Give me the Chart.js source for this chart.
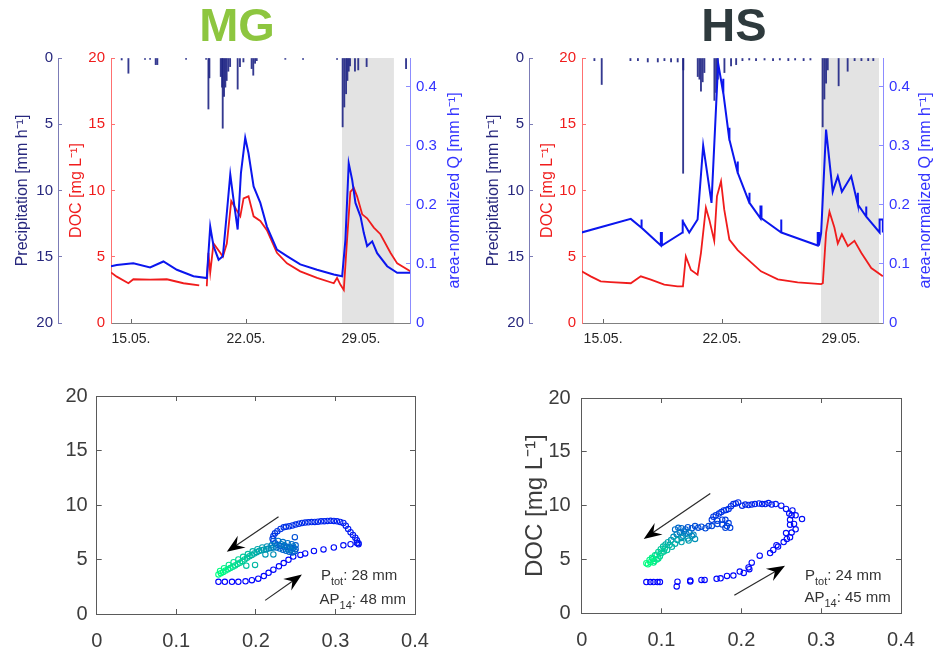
<!DOCTYPE html>
<html>
<head>
<meta charset="utf-8">
<script src="https://cdn.jsdelivr.net/npm/chart.js@4.4.1/dist/chart.umd.min.js"></script>
<style>
  body { margin: 0; background: #fff; width: 942px; height: 651px; position: relative; overflow: hidden; }
  .panel { position: absolute; }
  .site { position: absolute; top: 1px; width: 200px; text-align: center; z-index: 2;
          font: bold 47px/47px "Liberation Sans", Arial, sans-serif; }
</style>
</head>
<body>
<div class="site" style="left:137px;color:#8dc63f">MG</div>
<div class="site" style="left:634px;color:#2e3a3d">HS</div>
<canvas class="panel" id="mgSeries" width="471" height="360" style="left:0;top:0"></canvas>
<canvas class="panel" id="hsSeries" width="471" height="360" style="left:471px;top:0"></canvas>
<canvas class="panel" id="mgLoop" width="471" height="281" style="left:0;top:370px"></canvas>
<canvas class="panel" id="hsLoop" width="471" height="281" style="left:471px;top:370px"></canvas>
<script>
// time axis in day of May
var dayTicks = [15, 22, 29];
var dayLabels = ['15.05.', '22.05.', '29.05.'];

// MG time series
var mgRainDay = [14.43, 14.84, 15.85, 16.16, 16.50, 16.60, 18.35, 19.57, 19.71, 19.77, 20.46, 20.54, 20.58, 20.66, 20.74, 20.82, 20.92, 21.03, 21.49, 21.63, 21.84, 22.34, 22.44, 22.55, 22.65, 24.39, 25.47, 27.54, 27.88, 27.98, 28.09, 28.17, 28.25, 28.33, 28.63, 28.83, 29.34, 31.74];
var mgRainMm = [0.15, 1.15, 0.1, 0.1, 0.5, 0.5, 0.1, 0.1, 3.85, 1.5, 1.4, 2.2, 5.3, 2.9, 2.2, 1.7, 1.0, 0.65, 2.35, 0.65, 0.3, 0.8, 1.3, 0.4, 0.2, 0.1, 0.1, 0.1, 5.2, 3.7, 2.7, 1.7, 1.0, 0.6, 1.0, 0.9, 0.65, 0.8];
var mgDocDay = [13.78, 14.13, 14.84, 15.14, 16.16, 17.18, 18.19, 19.15, 19.40, 19.61, 19.71, 19.82, 20.02, 20.43, 20.59, 20.83, 21.10, 21.34, 21.65, 21.85, 22.15, 22.46, 22.87, 23.27, 23.88, 24.49, 25.30, 26.32, 27.34, 27.54, 27.74, 27.95, 28.15, 28.35, 28.56, 28.76, 29.07, 29.37, 29.78, 30.18, 30.79, 31.20, 32.0];
var mgDoc = [3.82, 3.5, 3.0, 3.3, 3.27, 3.3, 3.0, 2.84, null, 2.77, 5.3, 3.8, 6.0, 5.3, 5.0, 6.0, 9.2, 8.7, 8.05, 9.4, 9.56, 8.05, 7.7, 7.0, 5.3, 4.5, 3.9, 3.4, 3.0, 3.4, 2.9, 2.5, 6.3, 9.9, 10.2, 9.56, 8.2, 7.9, 7.2, 6.7, 5.3, 4.5, 3.9];
var mgQDay = [13.78, 14.13, 14.84, 15.14, 16.16, 16.97, 17.79, 18.80, 19.61, 19.82, 20.02, 20.33, 20.59, 20.83, 21.04, 21.24, 21.49, 21.69, 21.95, 22.15, 22.46, 22.87, 23.27, 23.88, 24.49, 25.30, 26.32, 27.34, 27.85, 28.05, 28.25, 28.46, 28.66, 28.97, 29.17, 29.37, 29.68, 29.98, 30.59, 31.20, 32.0];
var mgQ = [0.096, 0.098, 0.100, 0.101, 0.094, 0.104, 0.090, 0.079, 0.076, 0.163, 0.130, 0.107, 0.113, 0.186, 0.251, 0.208, 0.158, 0.254, 0.313, 0.287, 0.231, 0.203, 0.163, 0.124, 0.113, 0.099, 0.090, 0.082, 0.079, 0.141, 0.270, 0.242, 0.203, 0.180, 0.152, 0.130, 0.138, 0.118, 0.096, 0.085, 0.085];
var mgStorm = [27.84, 31.0];

// HS time series
var hsRainDay = [14.49, 14.92, 16.61, 17.05, 17.63, 18.22, 18.61, 19.00, 19.39, 19.71, 19.72, 20.57, 20.67, 20.76, 20.86, 20.96, 21.55, 21.65, 21.75, 22.14, 22.53, 22.83, 23.2, 23.6, 24.0, 24.5, 25.0, 25.4, 25.9, 26.3, 26.8, 27.2, 27.92, 28.02, 28.12, 28.22, 28.86, 29.39, 29.8, 30.2, 30.6, 30.9];
var hsRainMm = [0.2, 2.0, 0.2, 0.2, 0.3, 0.3, 0.2, 0.3, 0.3, 8.7, 0.9, 1.4, 1.6, 2.5, 1.8, 1.1, 3.2, 2.6, 1.6, 1.1, 0.6, 0.5, 0.2, 0.15, 0.2, 0.15, 0.2, 0.15, 0.2, 0.15, 0.2, 0.15, 5.2, 3.1, 1.9, 0.9, 2.1, 1.0, 0.2, 0.2, 0.2, 0.2];
var hsDocDay = [13.74, 14.27, 14.86, 15.45, 16.63, 17.22, 17.81, 18.60, 19.38, 19.70, 19.87, 20.17, 20.56, 20.76, 21.05, 21.25, 21.54, 21.70, 21.94, 22.13, 22.43, 22.92, 23.51, 24.29, 25.28, 26.45, 27.83, 27.93, 28.12, 28.32, 28.61, 28.81, 29.05, 29.40, 29.79, 30.19, 30.78, 31.46];
var hsDoc = [3.9, 3.52, 3.14, 3.09, 3.0, 3.52, 3.27, 2.89, 2.77, 2.77, 5.03, 4.0, 3.65, 5.3, 8.7, 7.8, 6.2, 9.56, 10.7, 8.55, 6.3, 5.5, 4.8, 3.9, 3.3, 3.07, 2.94, 3.0, 6.8, 8.4, 7.2, 6.0, 6.7, 5.8, 6.2, 5.3, 4.15, 3.52];
var hsQDay = [13.74, 13.74, 16.63, 17.26, 17.26, 17.27, 18.40, 18.40, 18.46, 18.46, 19.68, 19.68, 19.69, 20.07, 20.56, 20.89, 21.38, 21.77, 22.07, 22.07, 22.08, 22.43, 22.43, 22.44, 22.92, 22.92, 22.93, 23.61, 23.61, 23.62, 24.26, 24.26, 24.32, 24.32, 25.48, 25.48, 25.49, 27.63, 27.63, 27.70, 27.70, 27.83, 28.12, 28.51, 28.81, 29.05, 29.60, 29.99, 29.99, 30.00, 30.48, 30.48, 30.49, 31.27, 31.27, 31.46, 31.46];
var hsQ = [0.175, 0.153, 0.176, 0.161, 0.175, 0.161, 0.131, 0.152, 0.152, 0.131, 0.153, 0.175, 0.172, 0.153, 0.175, 0.300, 0.203, 0.439, 0.389, 0.413, 0.389, 0.310, 0.330, 0.310, 0.254, 0.273, 0.254, 0.203, 0.220, 0.203, 0.177, 0.197, 0.197, 0.177, 0.153, 0.175, 0.153, 0.131, 0.152, 0.152, 0.131, 0.152, 0.327, 0.222, 0.248, 0.222, 0.248, 0.200, 0.220, 0.200, 0.180, 0.197, 0.180, 0.153, 0.175, 0.175, 0.153];
var hsStorm = [27.82, 31.24];

// hysteresis loops, [Q, DOC] in time order
var mgRise = [[0.153,2.95],[0.161,2.95],[0.170,2.95],[0.178,2.95],[0.187,3.0],[0.195,3.1],[0.203,3.24],[0.210,3.48],[0.216,3.78],[0.222,4.07],[0.229,4.37],[0.235,4.67],[0.241,4.97],[0.247,5.27],[0.256,5.42],[0.262,5.56],[0.273,5.78],[0.285,5.92],[0.298,6.1],[0.310,6.3],[0.319,6.4],[0.327,6.52],[0.329,6.4]];
var mgTop = [[0.329,6.5],[0.327,6.76],[0.325,7.0],[0.322,7.25],[0.319,7.5],[0.316,7.8],[0.313,8.1],[0.310,8.35],[0.306,8.45],[0.302,8.5],[0.298,8.54],[0.294,8.55],[0.290,8.54],[0.286,8.52],[0.282,8.5],[0.278,8.47],[0.274,8.45],[0.270,8.43],[0.266,8.41],[0.262,8.39],[0.258,8.35],[0.254,8.28],[0.250,8.2],[0.246,8.12],[0.242,8.05],[0.238,8.0],[0.235,7.95],[0.231,7.8],[0.227,7.6],[0.224,7.4],[0.222,7.15],[0.221,6.9]];
var mgBlob = [[0.222,6.7],[0.224,6.5],[0.249,7.05],[0.227,6.35],[0.231,6.25],[0.235,6.2],[0.239,6.15],[0.243,6.1],[0.247,6.05],[0.250,5.95],[0.250,6.3],[0.249,5.75],[0.246,5.65],[0.242,5.7],[0.238,5.8],[0.234,5.9],[0.230,6.0],[0.226,6.1],[0.245,6.4],[0.240,6.5],[0.234,6.6],[0.228,6.7],[0.236,6.3],[0.244,5.9],[0.240,5.95],[0.232,6.4],[0.247,6.2]];
var mgTail = [[0.222,6.1],[0.220,6.3],[0.219,6.06],[0.216,6.0],[0.214,6.2],[0.222,5.47],[0.213,5.95],[0.212,5.47],[0.210,5.9],[0.208,6.1],[0.207,5.85],[0.204,5.78],[0.202,5.95],[0.201,5.67],[0.198,5.55],[0.196,5.75],[0.195,5.42],[0.199,4.5],[0.192,5.3],[0.190,5.5],[0.188,4.43],[0.189,5.15],[0.186,5.0],[0.184,5.25],[0.183,4.85],[0.180,4.7],[0.178,5.0],[0.177,4.58],[0.174,4.46],[0.172,4.75],[0.171,4.34],[0.168,4.22],[0.166,4.5],[0.165,4.1],[0.162,3.98],[0.160,4.2],[0.159,3.86],[0.156,3.75],[0.155,3.95],[0.153,3.63]];

var hsRise = [[0.081,2.9],[0.086,2.9],[0.090,2.9],[0.095,2.9],[0.098,2.9],[0.119,2.5],[0.120,2.94],[0.136,3.05],[0.136,2.95],[0.150,3.1],[0.154,3.1],[0.169,3.2],[0.174,3.25],[0.182,3.47],[0.190,3.5],[0.198,3.88],[0.203,3.75],[0.209,4.26],[0.213,4.7],[0.210,4.1],[0.223,5.35],[0.236,5.59],[0.240,5.88],[0.244,6.32],[0.246,6.2],[0.253,6.62],[0.257,6.91],[0.261,7.06],[0.263,7.5],[0.256,7.45],[0.268,7.8],[0.261,8.23],[0.266,8.3],[0.261,8.68],[0.276,8.75],[0.263,9.1],[0.268,9.1],[0.260,9.26],[0.264,9.56],[0.256,9.7],[0.250,10.0]];
var hsTop = [[0.243,10.15],[0.238,10.1],[0.234,10.24],[0.230,10.15],[0.226,10.15],[0.222,10.2],[0.217,10.15],[0.213,10.1],[0.209,10.06],[0.205,10.1],[0.201,10.0],[0.196,10.3],[0.193,10.2],[0.190,10.15],[0.187,9.95],[0.184,9.7],[0.181,9.6],[0.178,9.56],[0.175,9.4],[0.172,9.26],[0.168,9.1],[0.165,8.97],[0.163,8.68],[0.170,8.6],[0.176,8.7],[0.180,8.68],[0.184,8.38],[0.186,7.94],[0.180,7.94],[0.176,8.24],[0.182,8.1],[0.170,8.3],[0.163,8.1],[0.159,8.1],[0.155,7.9],[0.150,8.05],[0.146,7.95],[0.142,8.1],[0.138,7.9],[0.133,8.0]];
var hsTail = [[0.130,7.79],[0.125,7.9],[0.121,7.94],[0.117,7.79],[0.128,7.6],[0.123,7.5],[0.135,7.5],[0.131,7.4],[0.140,7.3],[0.119,7.35],[0.127,7.2],[0.138,7.2],[0.115,7.1],[0.142,6.91],[0.133,6.95],[0.125,7.0],[0.112,6.8],[0.134,6.76],[0.125,6.62],[0.120,6.8],[0.108,6.6],[0.117,6.47],[0.105,6.4],[0.113,6.18],[0.110,6.35],[0.102,6.2],[0.107,5.88],[0.104,6.03],[0.099,5.95],[0.100,5.59],[0.103,5.75],[0.096,5.7],[0.098,5.3],[0.094,5.44],[0.092,5.4],[0.096,5.1],[0.094,5.0],[0.089,5.05],[0.091,4.85],[0.090,4.71],[0.088,5.15],[0.085,4.95],[0.086,4.75],[0.083,4.55],[0.081,4.65]];

// event notes and arrows (Q, DOC)
var mgNotes = [{x: 0.2818, y: 3.12, main: 'P', sub: 'tot', rest: ': 28 mm'}, {x: 0.280, y: 0.95, main: 'AP', sub: '14', rest: ': 48 mm'}];
var hsNotes = [{x: 0.2797, y: 3.09, main: 'P', sub: 'tot', rest: ': 24 mm'}, {x: 0.279, y: 1.02, main: 'AP', sub: '14', rest: ': 45 mm'}];
var mgArrows = [[0.2285, 8.93, 0.1635, 5.71], [0.2117, 1.25, 0.2579, 3.63]];
var hsArrows = [[0.1611, 11.12, 0.0777, 6.91], [0.1912, 1.68, 0.2547, 4.41]];

var FONT = '"Liberation Sans", Arial, Helvetica, sans-serif';
Chart.defaults.font.family = FONT;

var NAVY = '#28287e';
var NAVY_AX = '#7c7cb6';
var RED = '#f01c1c';
var BLUE = '#0b16ee';
var QBLUE = '#3434ff';

function zip(xs, ys) {
    return xs.map(function (x, i) { return {x: x, y: ys[i]}; });
}

function winter(t) {
    return 'rgb(0,' + Math.round(255 * t) + ',' + Math.round(255 * (1 - t / 2)) + ')';
}

// right axis title, reading bottom to top like the left ones
var qTitle = {
    id: 'qTitle',
    afterDraw: function (chart) {
        var a = chart.chartArea, ctx = chart.ctx;
        ctx.save();
        ctx.translate(chart.width - 16, (a.top + a.bottom) / 2);
        ctx.rotate(-Math.PI / 2);
        ctx.font = '16px ' + FONT;
        ctx.fillStyle = QBLUE;
        ctx.textAlign = 'center';
        ctx.textBaseline = 'middle';
        ctx.fillText('area-normalized Q [mm h⁻¹]', 0, 0);
        ctx.restore();
    }
};

function seriesChart(id, p) {
    return new Chart(document.getElementById(id), {
        type: 'line',
        data: {
            datasets: [{
                label: 'storm',
                data: p.storm.map(function (d) { return {x: d, y: 20}; }),
                yAxisID: 'y',
                fill: 'origin',
                backgroundColor: '#e3e3e3',
                borderWidth: 0,
                pointRadius: 0,
                order: 5
            }, {
                type: 'bar',
                label: 'Precipitation',
                data: zip(p.rainDay, p.rainMm),
                yAxisID: 'yP',
                backgroundColor: 'rgba(30,36,132,0.9)',
                barThickness: 1.2,
                order: 4
            }, {
                label: 'DOC',
                data: zip(p.docDay, p.doc),
                yAxisID: 'y',
                borderColor: RED,
                borderWidth: 1.8,
                pointRadius: 0,
                order: 2
            }, {
                label: 'Q',
                data: zip(p.qDay, p.q),
                yAxisID: 'yQ',
                borderColor: BLUE,
                borderWidth: 2,
                pointRadius: 0,
                order: 1
            }]
        },
        options: {
            responsive: false,
            animation: false,
            events: [],
            layout: {padding: {top: 58, left: 0, right: 0, bottom: 0}},
            plugins: {legend: {display: false}, tooltip: {enabled: false}},
            scales: {
                x: {
                    type: 'linear', min: p.xMin, max: p.xMax, offset: false,
                    afterBuildTicks: function (s) { s.ticks = dayTicks.map(function (v) { return {value: v}; }); },
                    afterFit: function (s) { s.height = 37; },
                    ticks: {
                        callback: function (v) { return dayLabels[dayTicks.indexOf(v)]; },
                        color: '#262626', font: {size: 14}, padding: 12, maxRotation: 0, autoSkip: false
                    },
                    grid: {drawOnChartArea: false, offset: false, tickLength: -4, color: '#666'},
                    border: {color: '#808080'}
                },
                yP: {
                    type: 'linear', position: 'left', weight: 1, reverse: true, min: 0, max: 20,
                    afterFit: function (s) { s.width = 58; },
                    ticks: {stepSize: 5, color: NAVY, font: {size: 15}, padding: 9},
                    title: {display: true, text: 'Precipitation [mm h⁻¹]', color: NAVY, font: {size: 16, lineHeight: 1}, padding: {top: 15, bottom: 0}},
                    grid: {drawOnChartArea: false, tickLength: -4, color: NAVY_AX},
                    border: {color: NAVY_AX}
                },
                y: {
                    type: 'linear', position: 'left', weight: 0, min: 0, max: 20,
                    afterFit: function (s) { s.width = 53; },
                    ticks: {stepSize: 5, color: RED, font: {size: 15}, padding: 10},
                    title: {display: true, text: 'DOC [mg L⁻¹]', color: RED, font: {size: 16, lineHeight: 1}, padding: {top: 11, bottom: 0}},
                    grid: {drawOnChartArea: false, tickLength: -4, color: '#ff7070'},
                    border: {color: '#ff7070'}
                },
                yQ: {
                    type: 'linear', position: 'right', min: 0, max: 0.448,
                    afterBuildTicks: function (s) { s.ticks = [0, 0.1, 0.2, 0.3, 0.4].map(function (v) { return {value: v}; }); },
                    afterFit: function (s) { s.width = p.qWidth; },
                    ticks: {color: QBLUE, font: {size: 15}, padding: 10},
                    grid: {drawOnChartArea: false, tickLength: -4, color: '#8c8cff'},
                    border: {color: '#8c8cff'}
                }
            }
        },
        plugins: [qTitle]
    });
}

seriesChart('mgSeries', {
    rainDay: mgRainDay, rainMm: mgRainMm, docDay: mgDocDay, doc: mgDoc,
    qDay: mgQDay, q: mgQ, storm: mgStorm, xMin: 13.78, xMax: 31.98, qWidth: 61
});
seriesChart('hsSeries', {
    rainDay: hsRainDay, rainMm: hsRainMm, docDay: hsDocDay, doc: hsDoc,
    qDay: hsQDay, q: hsQ, storm: hsStorm, xMin: 13.76, xMax: 31.47, qWidth: 59
});

function drawArrow(ctx, x0, y0, x1, y1) {
    var ang = Math.atan2(y1 - y0, x1 - x0);
    var len = 18, half = 7;
    ctx.strokeStyle = '#2a2a2a';
    ctx.lineWidth = 1.2;
    ctx.beginPath();
    ctx.moveTo(x0, y0);
    ctx.lineTo(x1 - Math.cos(ang) * len * 0.6, y1 - Math.sin(ang) * len * 0.6);
    ctx.stroke();
    ctx.save();
    ctx.translate(x1, y1);
    ctx.rotate(ang);
    ctx.fillStyle = '#000';
    ctx.beginPath();
    ctx.moveTo(0, 0);
    ctx.lineTo(-len, -half);
    ctx.lineTo(-len * 0.65, 0);
    ctx.lineTo(-len, half);
    ctx.closePath();
    ctx.fill();
    ctx.restore();
}

function notesPlugin(notes, arrows) {
    return {
        id: 'loopNotes',
        afterDatasetsDraw: function (chart) {
            var ctx = chart.ctx, xs = chart.scales.x, ys = chart.scales.y;
            ctx.save();
            arrows.forEach(function (a) {
                drawArrow(ctx, xs.getPixelForValue(a[0]), ys.getPixelForValue(a[1]),
                    xs.getPixelForValue(a[2]), ys.getPixelForValue(a[3]));
            });
            ctx.fillStyle = '#333';
            ctx.textBaseline = 'alphabetic';
            notes.forEach(function (n) {
                var x = xs.getPixelForValue(n.x), y = ys.getPixelForValue(n.y);
                ctx.font = '15px ' + FONT;
                ctx.fillText(n.main, x, y);
                x += ctx.measureText(n.main).width;
                ctx.font = '11px ' + FONT;
                ctx.fillText(n.sub, x, y + 5);
                x += ctx.measureText(n.sub).width;
                ctx.font = '15px ' + FONT;
                ctx.fillText(n.rest, x, y);
            });
            ctx.restore();
        }
    };
}

function loopChart(id, segs, notes, arrows, box) {
    var AX = '#5a5a5a', TXT = '#3c3c3c';
    var edge = {drawOnChartArea: false, tickLength: -5, color: AX};
    return new Chart(document.getElementById(id), {
        type: 'scatter',
        data: {
            datasets: segs.map(function (s, k) {
                var n = s.pts.length;
                return {
                    data: s.pts.map(function (p) { return {x: p[0], y: p[1]}; }),
                    pointBorderColor: s.pts.map(function (p, i) { return winter(s.t0 + (s.t1 - s.t0) * i / Math.max(1, n - 1)); }),
                    pointBackgroundColor: 'rgba(0,0,0,0)',
                    pointRadius: 2.7,
                    pointBorderWidth: 1.1,
                    showLine: false,
                    order: segs.length - k
                };
            })
        },
        options: {
            responsive: false,
            animation: false,
            events: [],
            layout: {padding: {top: box.top, right: box.right, left: 0, bottom: 0}},
            plugins: {legend: {display: false}, tooltip: {enabled: false}},
            scales: {
                x: {
                    type: 'linear', position: 'bottom', min: 0, max: 0.4,
                    afterFit: function (s) { s.height = box.bottomH; },
                    ticks: {stepSize: 0.1, font: {size: 20}, color: TXT, padding: 20, maxRotation: 0},
                    grid: edge, border: {color: AX}
                },
                x2: {
                    type: 'linear', position: 'top', min: 0, max: 0.4,
                    afterFit: function (s) { s.height = 0; },
                    ticks: {stepSize: 0.1, display: false},
                    grid: edge, border: {color: AX}
                },
                y: {
                    type: 'linear', position: 'left', min: 0, max: 20,
                    afterFit: function (s) { s.width = box.leftW; },
                    ticks: {stepSize: 5, font: {size: 20}, color: TXT, padding: box.yPad},
                    title: {display: !!box.title, text: box.title || '', color: TXT, font: {size: 24, lineHeight: 1}, padding: {top: 52, bottom: 0}},
                    grid: edge, border: {color: AX}
                },
                y2: {
                    type: 'linear', position: 'right', min: 0, max: 20,
                    afterFit: function (s) { s.width = 0; },
                    ticks: {stepSize: 5, display: false},
                    grid: edge, border: {color: AX}
                }
            }
        },
        plugins: [notesPlugin(notes, arrows)]
    });
}

loopChart('mgLoop', [
    {pts: mgRise, t0: 0, t1: 0.05},
    {pts: mgTop, t0: 0.08, t1: 0.22},
    {pts: mgBlob, t0: 0.3, t1: 0.48},
    {pts: mgTail, t0: 0.5, t1: 1}
], mgNotes, mgArrows, {top: 20, right: 56, bottomH: 37, leftW: 96.7, yPad: 14});

loopChart('hsLoop', [
    {pts: hsRise, t0: 0, t1: 0.06},
    {pts: hsTop, t0: 0.1, t1: 0.32},
    {pts: hsTail, t0: 0.38, t1: 1}
], hsNotes, hsArrows, {top: 16.7, right: 41, bottomH: 37.7, leftW: 110.7, yPad: 16, title: 'DOC [mg L⁻¹]'});
</script>
</body>
</html>
